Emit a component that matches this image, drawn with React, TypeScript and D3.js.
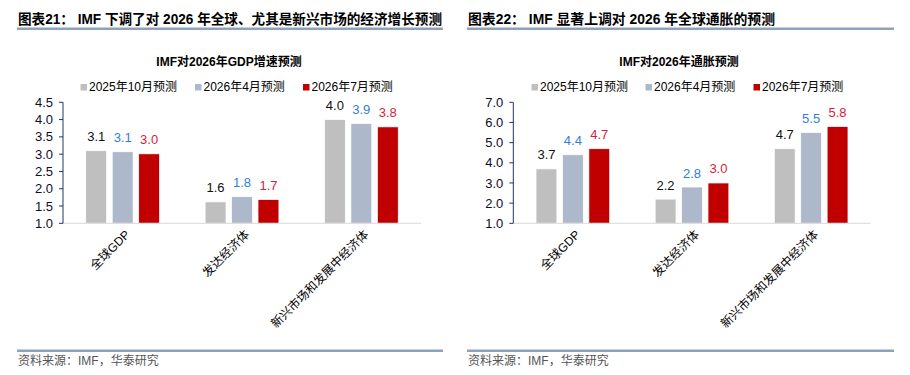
import * as d3 from 'd3';

// data
const categories = ['全球GDP', '发达经济体', '新兴市场和发展中经济体'];
const seriesNames = ['2025年10月预测', '2026年4月预测', '2026年7月预测'];

const gdpOct25 = [3.1, 1.62, 4.0];
const gdpApr26 = [3.07, 1.77, 3.89];
const gdpJul26 = [3.01, 1.69, 3.79];

const cpiOct25 = [3.7, 2.2, 4.7];
const cpiApr26 = [4.4, 2.8, 5.5];
const cpiJul26 = [4.7, 3.0, 5.8];

const gdpTicks = [1.0, 1.5, 2.0, 2.5, 3.0, 3.5, 4.0, 4.5];
const cpiTicks = [1.0, 2.0, 3.0, 4.0, 5.0, 6.0, 7.0];

const barColors = ['#BFBFBF', '#ADB9CA', '#C00000'];
const labelColors = ['#111111', '#2E7FD6', '#D41E3C'];

const W = 910;
const H = 375;
const FONT = '"Liberation Sans", Arial, "Noto Sans CJK SC", sans-serif';

type PanelProps = {
  x0: number;
  panelRight: number;
  title: string;
  titleWidth: number;
  chartTitle: string;
  chartTitleX: number;
  axisX: number;
  plotRight: number;
  domain: [number, number];
  ticks: number[];
  series: number[][];
  legendX: number[];
};

const Panel = (p: PanelProps) => {
  const yTop = 102.3;
  const yBottom = 223.3;

  const y = d3.scaleLinear().domain(p.domain).range([yBottom, yTop]);
  const x = d3.scaleBand().domain(categories).range([p.axisX, p.plotRight]).padding(0);
  const xInner = d3
    .scaleBand()
    .domain(seriesNames)
    .range([0, x.bandwidth()])
    .paddingInner(0.21)
    .paddingOuter(0.86);
  const fmt = d3.format('.1f');

  return (
    <g>
      {/* header */}
      <text
        x={p.x0 + 1}
        y={24}
        fontSize={14}
        fontWeight="bold"
        fill="#000"
        fontFamily={FONT}
        textLength={p.titleWidth}
        lengthAdjust="spacingAndGlyphs"
      >
        {p.title}
      </text>
      <rect x={p.x0} y={27.5} width={p.panelRight - p.x0} height={2.5} fill="#8DA2BB" />

      <text
        x={p.chartTitleX}
        y={66}
        fontSize={12}
        fontWeight="bold"
        textAnchor="middle"
        fill="#000"
        fontFamily={FONT}
      >
        {p.chartTitle}
      </text>

      {/* legend */}
      {seriesNames.map((s, i) => (
        <g key={s}>
          <rect x={p.legendX[i]} y={84} width={6.5} height={6.5} fill={barColors[i]} />
          <text x={p.legendX[i] + 8.5} y={91} fontSize={12} fill="#000" fontFamily={FONT}>
            {s}
          </text>
        </g>
      ))}

      {/* bars */}
      {categories.map((c, ci) => (
        <g key={c}>
          {p.series.map((vals, si) => {
            const bx = (x(c) ?? 0) + (xInner(seriesNames[si]) ?? 0);
            const by = y(vals[ci]);
            return (
              <g key={si}>
                <rect
                  x={bx}
                  y={by}
                  width={xInner.bandwidth()}
                  height={yBottom - by}
                  fill={barColors[si]}
                  stroke="#fff"
                  strokeWidth={0.75}
                />
                <text
                  x={bx + xInner.bandwidth() / 2}
                  y={by - 9.5}
                  fontSize={13}
                  textAnchor="middle"
                  fill={labelColors[si]}
                  fontFamily={FONT}
                >
                  {fmt(vals[ci])}
                </text>
              </g>
            );
          })}
          <text
            transform={`translate(${(x(c) ?? 0) + x.bandwidth() / 2 + 5},${yBottom + 9}) rotate(-45)`}
            fontSize={12}
            textAnchor="end"
            dy="0.35em"
            fill="#000"
            fontFamily={FONT}
          >
            {c}
          </text>
        </g>
      ))}

      {/* axes */}
      <line x1={p.axisX} x2={p.plotRight} y1={yBottom} y2={yBottom} stroke="#D9D9D9" strokeWidth={1} />
      <line x1={p.axisX} x2={p.axisX} y1={yTop} y2={yBottom} stroke="#1F3864" strokeWidth={1} />
      {p.ticks.map((t) => (
        <g key={t}>
          <line x1={p.axisX - 4} x2={p.axisX} y1={y(t)} y2={y(t)} stroke="#1F3864" strokeWidth={1} />
          <text
            x={p.axisX - 10}
            y={y(t)}
            dy="0.35em"
            fontSize={13}
            textAnchor="end"
            fill="#0D0D26"
            fontFamily={FONT}
          >
            {fmt(t)}
          </text>
        </g>
      ))}

      {/* footer */}
      <rect x={p.x0} y={349.5} width={p.panelRight - p.x0} height={2.5} fill="#8DA2BB" />
      <text x={p.x0 + 1} y={365} fontSize={12} fill="#555" fontFamily={FONT}>
        资料来源：IMF，华泰研究
      </text>
    </g>
  );
};

export default function App() {
  return (
    <svg
      width={W}
      height={H}
      viewBox={`0 0 ${W} ${H}`}
      style={{ position: 'absolute', left: 0, top: 0, background: '#fff' }}
    >
      <rect width={W} height={H} fill="#fff" />
      <Panel
        x0={17}
        panelRight={443}
        title="图表21：  IMF 下调了对 2026 年全球、尤其是新兴市场的经济增长预测"
        titleWidth={424}
        chartTitle="IMF对2026年GDP增速预测"
        chartTitleX={229}
        axisX={63}
        plotRight={421}
        domain={[1, 4.5]}
        ticks={gdpTicks}
        series={[gdpOct25, gdpApr26, gdpJul26]}
        legendX={[80.5, 195, 303]}
      />
      <Panel
        x0={467}
        panelRight={894}
        title="图表22：  IMF 显著上调对 2026 年全球通胀的预测"
        titleWidth={307}
        chartTitle="IMF对2026年通胀预测"
        chartTitleX={679}
        axisX={513.3}
        plotRight={870.7}
        domain={[1, 7]}
        ticks={cpiTicks}
        series={[cpiOct25, cpiApr26, cpiJul26]}
        legendX={[531.5, 645.5, 753.5]}
      />
    </svg>
  );
}
